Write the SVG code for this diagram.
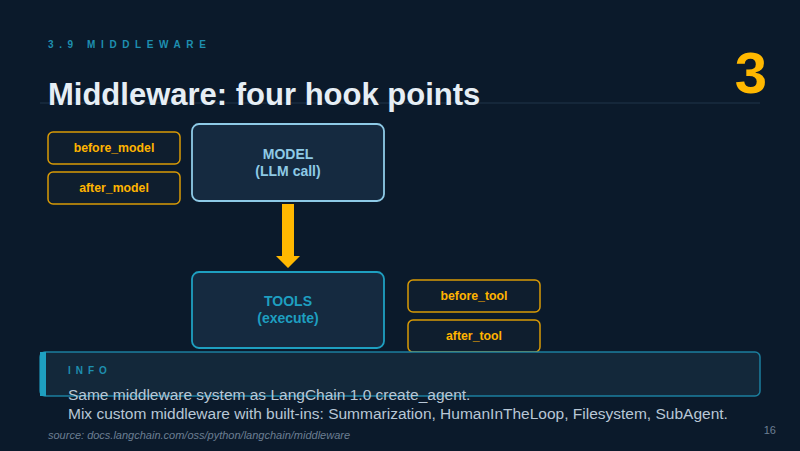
<svg xmlns="http://www.w3.org/2000/svg" width="800" height="451" viewBox="0 0 800 451">
<style>
text{font-family:"Liberation Sans",Arial,sans-serif}
.hook rect{fill:#0f1e2e;stroke:#d99a06;stroke-width:1.5}
.hook text{fill:#ffb400;font-size:12.3px;font-weight:bold;text-anchor:middle}
.main text{font-size:14px;font-weight:bold;text-anchor:middle}
</style>
<rect width="800" height="451" fill="#0b1a2b"/>
<text x="48" y="48" font-size="10" font-weight="bold" fill="#1e8fb0" letter-spacing="5.6">3.9  MIDDLEWARE</text>
<line x1="40" y1="103" x2="760" y2="103" stroke="#1a2d40" stroke-width="1.5"/>
<text x="48" y="105" font-size="31" font-weight="bold" fill="#e6eef5">Middleware: four hook points</text>
<text x="751" y="93" font-size="58" font-weight="bold" fill="#ffb800" text-anchor="middle">3</text>
<g id="before_model" class="hook"><rect x="48" y="132" width="132" height="32" rx="5"/><text x="114" y="152">before_model</text></g>
<g id="after_model" class="hook"><rect x="48" y="172" width="132" height="32" rx="5"/><text x="114" y="192">after_model</text></g>
<g id="model" class="main"><rect x="192" y="124" width="192" height="77" rx="7" fill="#152a40" stroke="#8ecae6" stroke-width="1.8"/><text x="288" y="159" fill="#8ecae6">MODEL</text><text x="288" y="176" fill="#8ecae6">(LLM call)</text></g>
<g id="tools" class="main"><rect x="192" y="272" width="192" height="76" rx="7" fill="#152a40" stroke="#1e9fc0" stroke-width="1.8"/><text x="288" y="306" fill="#1e9fc0">TOOLS</text><text x="288" y="323" fill="#1e9fc0">(execute)</text></g>
<g id="before_tool" class="hook"><rect x="408" y="280" width="132" height="32" rx="5"/><text x="474" y="300">before_tool</text></g>
<g id="after_tool" class="hook"><rect x="408" y="320" width="132" height="32" rx="5"/><text x="474" y="340">after_tool</text></g>
<g id="connectors"><polygon points="282,204 294,204 294,256 300,256 288,268 276,256 282,256" fill="#ffb800"/></g>
<g id="info">
<rect x="40" y="352" width="720" height="44" rx="5" fill="#13283a" stroke="#1e8fb0" stroke-width="1.5" stroke-opacity="0.85"/>
<rect x="40" y="352" width="6" height="44" fill="#1e9fc0"/>
<text x="68" y="374" font-size="10" font-weight="bold" fill="#1e8fb0" letter-spacing="5">INFO</text>
<text x="68" y="400" font-size="15.5" fill="#b8c7d6">Same middleware system as LangChain 1.0 create_agent.</text>
<text x="68" y="419" font-size="15.5" fill="#b8c7d6">Mix custom middleware with built-ins: Summarization, HumanInTheLoop, Filesystem, SubAgent.</text>
</g>
<text x="48" y="439" font-size="11" font-style="italic" fill="#6b7f93">source: docs.langchain.com/oss/python/langchain/middleware</text>
<text x="776" y="434" font-size="11" fill="#6b7f93" text-anchor="end">16</text>
</svg>
